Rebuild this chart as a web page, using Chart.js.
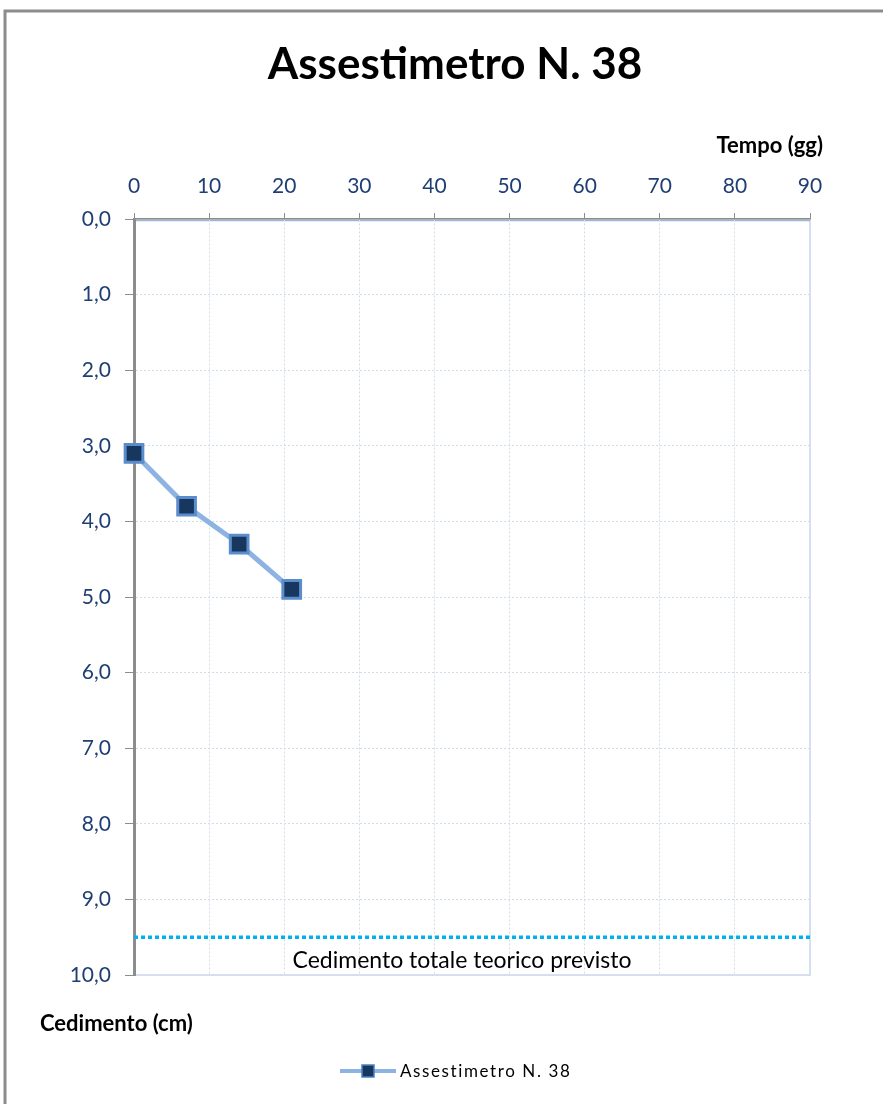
<!DOCTYPE html>
<html>
<head>
<meta charset="utf-8">
<title>Assestimetro N. 38</title>
<script src="https://cdn.jsdelivr.net/npm/chart.js@4/dist/chart.umd.min.js"></script>
<style>
  html, body { margin: 0; padding: 0; background: #ffffff; }
  #grafico { display: block; }
</style>
</head>
<body>
<canvas id="grafico" width="883" height="1104"></canvas>
<script>
// Letture dell'assestimetro
const giorni = [0, 7, 14, 21];
const cedimenti = [3.1, 3.8, 4.3, 4.9];

// Cedimento totale teorico previsto (cm)
const cedimentoPrevisto = 9.5;
const giorniLimite = [0, 90];

const titolo = 'Assestimetro N. 38';
const titoloAsseX = 'Tempo (gg)';
const titoloAsseY = 'Cedimento (cm)';
const etichettaPrevisto = 'Cedimento totale teorico previsto';

const FONT = 'Lato, "Open Sans", sans-serif';
const BLU_TICK = '#1f3f74';

// Testi, cornice e legenda disegnati attorno all'area del grafico
const decorazioni = {
  id: 'decorazioni',
  beforeDraw(chart) {
    const { ctx, chartArea: a } = chart;
    ctx.save();
    ctx.fillStyle = '#ffffff';
    ctx.fillRect(0, 0, chart.width, chart.height);
    // cornice dell'area del grafico
    ctx.strokeStyle = '#d6e0ef';
    ctx.lineWidth = 2;
    ctx.strokeRect(a.left, a.top, a.right - a.left, a.bottom - a.top);
    ctx.strokeStyle = '#9db6dc';
    ctx.lineWidth = 1.5;
    ctx.beginPath();
    ctx.moveTo(a.left, a.top + 1.5);
    ctx.lineTo(a.right, a.top + 1.5);
    ctx.stroke();
    ctx.restore();
  },
  afterDraw(chart) {
    const { ctx, scales } = chart;
    ctx.save();

    // bordo esterno (solo in alto e a sinistra)
    ctx.strokeStyle = '#8c8c8c';
    ctx.lineWidth = 3;
    ctx.beginPath();
    ctx.moveTo(5, chart.height);
    ctx.lineTo(5, 11);
    ctx.lineTo(chart.width, 11);
    ctx.stroke();

    // titolo
    ctx.fillStyle = '#000000';
    ctx.textAlign = 'center';
    ctx.textBaseline = 'middle';
    ctx.font = 'bold 44px ' + FONT;
    ctx.fillText(titolo, 455, 65);

    // titoli degli assi
    ctx.font = 'bold 22px ' + FONT;
    ctx.textAlign = 'right';
    ctx.fillText(titoloAsseX, 823, 146);
    ctx.textAlign = 'left';
    ctx.fillText(titoloAsseY, 40, 1024);

    // etichetta della linea del cedimento previsto
    const xm = (scales.x.getPixelForValue(giorniLimite[0]) + scales.x.getPixelForValue(giorniLimite[1])) / 2;
    ctx.textAlign = 'center';
    ctx.font = '23px ' + FONT;
    ctx.fillText(etichettaPrevisto, xm - 10, scales.y.getPixelForValue(cedimentoPrevisto) + 23);

    // legenda
    const ly = 1071;
    ctx.strokeStyle = '#8db3e2';
    ctx.lineWidth = 4;
    ctx.beginPath();
    ctx.moveTo(340, ly);
    ctx.lineTo(396, ly);
    ctx.stroke();
    ctx.fillStyle = '#17375e';
    ctx.fillRect(362, ly - 6, 12, 12);
    ctx.strokeStyle = '#4f81bd';
    ctx.lineWidth = 1.5;
    ctx.strokeRect(362, ly - 6, 12, 12);
    ctx.fillStyle = '#000000';
    ctx.textAlign = 'left';
    ctx.font = '17px ' + FONT;
    ctx.letterSpacing = '1.6px';
    ctx.fillText(chart.data.datasets[0].label, 400, ly + 1);

    ctx.restore();
  }
};

const ctx = document.getElementById('grafico').getContext('2d');

new Chart(ctx, {
  type: 'line',
  data: {
    datasets: [{
      label: titolo,
      data: giorni.map((g, i) => ({ x: g, y: cedimenti[i] })),
      borderColor: '#8db3e2',
      borderWidth: 5,
      pointStyle: 'rect',
      pointRadius: 12.5,
      pointBackgroundColor: '#17375e',
      pointBorderColor: '#5b8ccb',
      pointBorderWidth: 3,
      tension: 0,
      clip: false
    }, {
      label: etichettaPrevisto,
      data: giorniLimite.map(g => ({ x: g, y: cedimentoPrevisto })),
      borderColor: '#00b0f0',
      borderWidth: 3.5,
      borderDash: [4, 3],
      pointRadius: 0,
      fill: false
    }]
  },
  options: {
    responsive: false,
    animation: false,
    layout: {
      padding: { left: 0, right: 73, top: 0, bottom: 129 }
    },
    plugins: {
      legend: { display: false },
      title: { display: false },
      tooltip: { enabled: false }
    },
    scales: {
      x: {
        type: 'linear',
        position: 'top',
        min: 0,
        max: 90,
        afterFit(scale) { scale.height = 219; },
        ticks: {
          stepSize: 10,
          color: BLU_TICK,
          padding: 14,
          font: { family: FONT, size: 21 }
        },
        grid: {
          color: '#d3dcea',
          tickColor: '#8c8c8c',
          tickLength: 6,
          lineWidth: 1
        },
        border: {
          display: true,
          color: '#8c8c8c',
          width: 1.5,
          dash: [2, 2]
        }
      },
      y: {
        type: 'linear',
        reverse: true,
        min: 0,
        max: 10,
        afterFit(scale) { scale.width = 134; },
        ticks: {
          stepSize: 1,
          color: BLU_TICK,
          padding: 14,
          font: { family: FONT, size: 21 },
          callback: v => v.toFixed(1).replace('.', ',')
        },
        grid: {
          color: '#d3dcea',
          tickColor: '#8c8c8c',
          tickLength: 9,
          lineWidth: 1
        },
        border: {
          display: true,
          color: '#8c8c8c',
          width: 3,
          dash: [2, 2]
        }
      }
    }
  },
  plugins: [decorazioni]
});
</script>
</body>
</html>
